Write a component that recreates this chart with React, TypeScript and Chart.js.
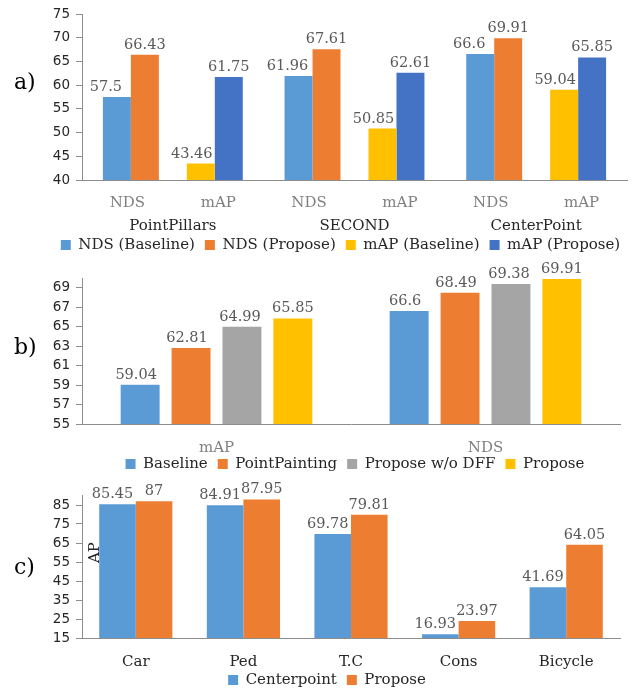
import React, { useEffect, useRef } from "react";
import { Chart, registerables } from "chart.js";

Chart.register(...registerables);

// ---------- Data: chart a ----------
const A_GROUPS = ["PointPillars", "SECOND", "CenterPoint"];
const A_SUBLABELS = ["NDS", "mAP", "NDS", "mAP", "NDS", "mAP"];
const A_SERIES = ["NDS (Baseline)", "NDS (Propose)", "mAP (Baseline)", "mAP (Propose)"];
const A_NDS_BASELINE = [57.5, 61.96, 66.6];
const A_NDS_PROPOSE = [66.43, 67.61, 69.91];
const A_MAP_BASELINE = [43.46, 50.85, 59.04];
const A_MAP_PROPOSE = [61.75, 62.61, 65.85];
const A_TICKS = [40, 45, 50, 55, 60, 65, 70, 75];

// ---------- Data: chart b ----------
const B_CATEGORIES = ["mAP", "NDS"];
const B_SERIES = ["Baseline", "PointPainting", "Propose w/o DFF", "Propose"];
const B_BASELINE = [59.04, 66.6];
const B_POINTPAINTING = [62.81, 68.49];
const B_WO_DFF = [64.99, 69.38];
const B_PROPOSE = [65.85, 69.91];
const B_TICKS = [55, 57, 59, 61, 63, 65, 67, 69];

// ---------- Data: chart c ----------
const C_CATEGORIES = ["Car", "Ped", "T.C", "Cons", "Bicycle"];
const C_SERIES = ["Centerpoint", "Propose"];
const C_CENTERPOINT = [85.45, 84.91, 69.78, 16.93, 41.69];
const C_PROPOSE = [87, 87.95, 79.81, 23.97, 64.05];
const C_TICKS = [15, 25, 35, 45, 55, 65, 75, 85];

// ---------- Styles ----------
const AXIS = "#8c8c8c";
const DARK = "#262626";
const GRAY = "#7f7f7f";
const LABEL = "#595959";
const SERIF = "'DejaVu Serif', serif";
const SANS = "'DejaVu Sans', sans-serif";
const BLUE = "#5B9BD5";
const ORANGE = "#ED7D31";
const YELLOW = "#FFC000";
const DARKBLUE = "#4472C4";
const GREY = "#A5A5A5";

const valueLabels = {
  id: "valueLabels",
  afterDatasetsDraw(chart: any, _args: any, opts: any) {
    const ctx = chart.ctx;
    ctx.save();
    ctx.font = `14.5px ${SERIF}`;
    ctx.fillStyle = LABEL;
    ctx.textAlign = "center";
    ctx.textBaseline = "alphabetic";
    const shifts = (opts && opts.shifts) || [];
    chart.data.datasets.forEach((ds: any, di: number) => {
      const meta = chart.getDatasetMeta(di);
      if (meta.hidden) return;
      meta.data.forEach((el: any, i: number) => {
        const v = ds.data[i];
        if (v === null || v === undefined) return;
        ctx.fillText(String(v), el.x + (shifts[di] || 0), el.y - 6);
      });
    });
    ctx.restore();
  },
};

const insideTitle = {
  id: "insideTitle",
  afterDraw(chart: any, _args: any, opts: any) {
    if (!opts || !opts.text) return;
    const { ctx, chartArea } = chart;
    ctx.save();
    ctx.font = `15px ${SERIF}`;
    ctx.fillStyle = DARK;
    ctx.textAlign = "center";
    ctx.textBaseline = "middle";
    const x = chartArea.left + 13;
    const y = chartArea.top + (chartArea.bottom - chartArea.top) * 0.4;
    ctx.translate(x, y);
    ctx.rotate(-Math.PI / 2);
    ctx.fillText(opts.text, 0, 0);
    ctx.restore();
  },
};

const legendNudge = {
  id: "legendNudge",
  afterLayout(chart: any, _args: any, opts: any) {
    const lg = chart.legend;
    if (!lg || !opts) return;
    const dx = opts.dx || 0;
    const dy = opts.dy || 0;
    lg.left += dx;
    lg.right += dx;
    lg.top += dy;
    lg.bottom += dy;
  },
};

function yScale(min: number, max: number, ticks: number[]) {
  return {
    type: "linear",
    min,
    max,
    afterBuildTicks: (s: any) => {
      s.ticks = ticks.map((v) => ({ value: v }));
    },
    afterFit: (s: any) => {
      s.width = 82;
    },
    grid: { drawOnChartArea: false, drawTicks: true, tickLength: 6, color: AXIS },
    border: { display: true, color: AXIS },
    ticks: { padding: 6, color: DARK, font: { family: SANS, size: 13.5 }, autoSkip: false },
  };
}

function xScale(color: string, padding: number, height: number, border: boolean, extra: any = {}) {
  return {
    type: "category",
    position: "bottom",
    grid: { display: false, drawTicks: false },
    border: { display: border, color: AXIS },
    ticks: { padding, color, font: { family: SERIF, size: 15 }, autoSkip: false, maxRotation: 0 },
    afterFit: (s: any) => {
      s.height = height;
    },
    ...extra,
  };
}

function legend() {
  return {
    position: "bottom",
    labels: {
      boxWidth: 10,
      boxHeight: 10,
      padding: 10,
      color: DARK,
      font: { family: SERIF, size: 15 },
      filter: (item: any) => item.text !== "",
    },
  };
}

function configA() {
  return {
    type: "bar",
    data: {
      labels: A_GROUPS,
      datasets: [
        { label: A_SERIES[0], data: A_NDS_BASELINE, backgroundColor: BLUE, xAxisID: "x" },
        { label: A_SERIES[1], data: A_NDS_PROPOSE, backgroundColor: ORANGE, xAxisID: "x" },
        { label: "", data: A_GROUPS.map(() => null), backgroundColor: "rgba(0,0,0,0)", xAxisID: "x" },
        { label: A_SERIES[2], data: A_MAP_BASELINE, backgroundColor: YELLOW, xAxisID: "x" },
        { label: A_SERIES[3], data: A_MAP_PROPOSE, backgroundColor: DARKBLUE, xAxisID: "x" },
      ],
    },
    options: {
      animation: false,
      responsive: true,
      maintainAspectRatio: false,
      layout: { padding: { left: 0, right: 14, top: 10, bottom: 0 } },
      datasets: { bar: { categoryPercentage: 0.77, barPercentage: 1 } },
      scales: {
        x: xScale(DARK, 5, 23, false, { weight: 1 }),
        xsub: xScale(GRAY, 14, 32, true, { weight: 0, axis: "x", labels: A_SUBLABELS }),
        y: yScale(40, 75, A_TICKS),
      },
      plugins: {
        legend: legend(),
        tooltip: { enabled: false },
        valueLabels: { shifts: [-11, 0, 0, -9, 0] },
        legendNudge: { dx: 27, dy: -7.5 },
      },
    },
    plugins: [valueLabels, legendNudge],
  };
}

function configB() {
  return {
    type: "bar",
    data: {
      labels: B_CATEGORIES,
      datasets: [
        { label: B_SERIES[0], data: B_BASELINE, backgroundColor: BLUE },
        { label: B_SERIES[1], data: B_POINTPAINTING, backgroundColor: ORANGE },
        { label: B_SERIES[2], data: B_WO_DFF, backgroundColor: GREY },
        { label: B_SERIES[3], data: B_PROPOSE, backgroundColor: YELLOW },
      ],
    },
    options: {
      animation: false,
      responsive: true,
      maintainAspectRatio: false,
      layout: { padding: { left: 0, right: 21, top: 20, bottom: 0 } },
      datasets: { bar: { categoryPercentage: 0.757, barPercentage: 0.765 } },
      scales: {
        x: xScale(GRAY, 15, 33, true),
        y: yScale(55, 70, B_TICKS),
      },
      plugins: {
        legend: legend(),
        tooltip: { enabled: false },
        valueLabels: { shifts: [-4, -4, -2, 0] },
        legendNudge: { dx: 45, dy: -10.5 },
      },
    },
    plugins: [valueLabels, legendNudge],
  };
}

function configC() {
  return {
    type: "bar",
    data: {
      labels: C_CATEGORIES,
      datasets: [
        { label: C_SERIES[0], data: C_CENTERPOINT, backgroundColor: BLUE },
        { label: C_SERIES[1], data: C_PROPOSE, backgroundColor: ORANGE },
      ],
    },
    options: {
      animation: false,
      responsive: true,
      maintainAspectRatio: false,
      layout: { padding: { left: 0, right: 21, top: 19.5, bottom: 0 } },
      datasets: { bar: { categoryPercentage: 0.68, barPercentage: 1 } },
      scales: {
        x: xScale(DARK, 15, 33, true),
        y: yScale(15, 90, C_TICKS),
      },
      plugins: {
        legend: legend(),
        tooltip: { enabled: false },
        valueLabels: { shifts: [-5, 0] },
        insideTitle: { text: "AP" },
        legendNudge: { dx: 17, dy: -8.5 },
      },
    },
    plugins: [valueLabels, insideTitle, legendNudge],
  };
}

function ChartBox({ top, height, make }: { top: number; height: number; make: () => any }) {
  const ref = useRef<HTMLCanvasElement | null>(null);
  useEffect(() => {
    if (!ref.current) return;
    const chart = new Chart(ref.current, make());
    return () => chart.destroy();
  }, []);
  return (
    <div style={{ position: "absolute", left: 0, top, width: 641, height }}>
      <canvas ref={ref} />
    </div>
  );
}

function PanelLabel({ text, cy }: { text: string; cy: number }) {
  return (
    <div
      style={{
        position: "absolute",
        left: 14,
        top: cy - 12,
        fontFamily: SERIF,
        fontSize: 22,
        lineHeight: "24px",
        color: "#000",
      }}
    >
      {text}
    </div>
  );
}

export default function App() {
  return (
    <div
      style={{
        position: "fixed",
        left: 0,
        top: 0,
        width: 641,
        height: 692,
        overflow: "hidden",
        background: "#fff",
      }}
    >
      <ChartBox top={0} height={270} make={configA} />
      <ChartBox top={258} height={234} make={configB} />
      <ChartBox top={476} height={230} make={configC} />
      <PanelLabel text="a)" cy={82} />
      <PanelLabel text="b)" cy={347} />
      <PanelLabel text="c)" cy={567} />
    </div>
  );
}
